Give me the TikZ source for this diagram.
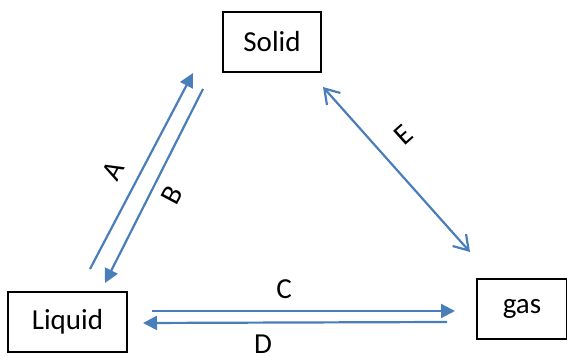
\documentclass[tikz,border=0pt]{standalone}
\usepackage{fontspec}
\setmainfont{Carlito}
\usetikzlibrary{arrows.meta}
\definecolor{arrblue}{HTML}{4A7EBB}
\begin{document}
\begin{tikzpicture}[
x=0.5pt,y=-0.5pt,
box/.style={
draw,
line width=0.6pt,
minimum width=#1,
minimum height=30pt,
inner sep=0pt,
font=\fontsize{14.5}{17}\selectfont
},
arr/.style={
draw=arrblue,
line width=1.1pt,
-{Triangle[length=7pt,width=7pt]}
},
lbl/.style={
inner sep=0pt,
font=\fontsize{14.5}{17}\selectfont
}
]
\useasboundingbox (0,0) rectangle (567,356);

\node[box=49pt] (S) at (272,42) {Solid};
\node[box=59.5pt] (L) at (67.5,322) {Liquid};
\node[box=45pt] (G) at (522,309) {gas};

% ends of the arrows
\coordinate (A1) at (90,269);
\coordinate (A2) at (193,73);
\coordinate (B1) at (203,89);
\coordinate (B2) at (105,283);
\coordinate (C1) at (152,311);
\coordinate (C2) at (455,311);
\coordinate (D1) at (447,322);
\coordinate (D2) at (143,323);
\coordinate (E1) at (323,87);
\coordinate (E2) at (470,252);

\draw[arr] (A1) -- (A2);
\draw[arr] (B1) -- (B2);
\draw[arr] (C1) -- (C2);
\draw[arr] (D1) -- (D2);
\draw[arr,{Straight Barb[length=7pt,width=9pt]}-{Straight Barb[length=7pt,width=9pt]}] (E1) -- (E2);

\node[lbl,rotate=62] (la) at (113,171) {A};
\node[lbl,rotate=62] (lb) at (172,195) {B};
\node[lbl] (lc) at (284,289) {C};
\node[lbl] (ld) at (263,344) {D};
\node[lbl,rotate=42] (le) at (404,135) {E};

\end{tikzpicture}
\end{document}
